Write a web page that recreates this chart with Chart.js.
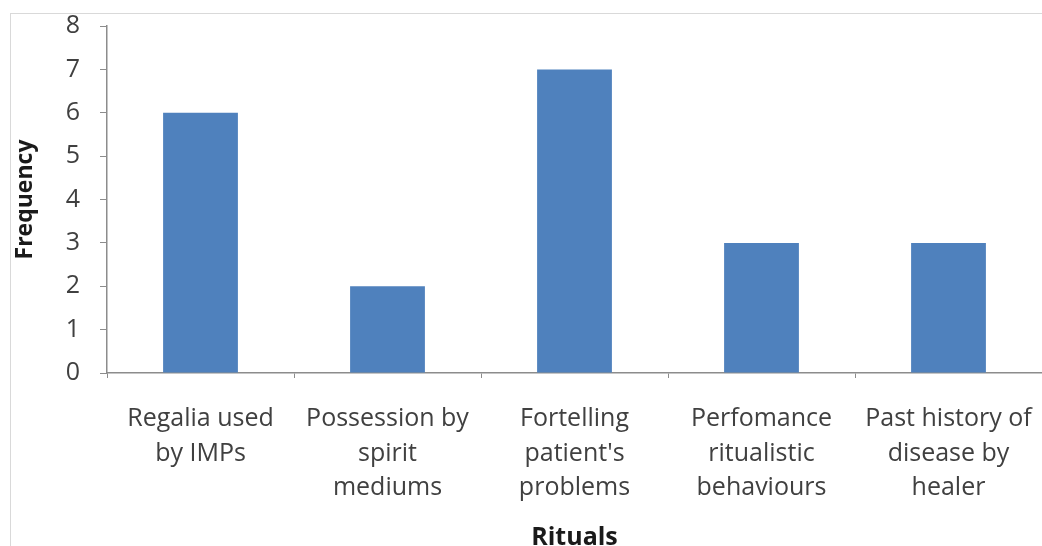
<!DOCTYPE html>
<html>
<head>
<meta charset="utf-8">
<script src="https://cdn.jsdelivr.net/npm/chart.js@4"></script>
<style>
  html, body { margin: 0; padding: 0; background: #fff; }
  #wrap { position: relative; width: 1042px; height: 546px; overflow: hidden; }
  #frame { position: absolute; left: 10px; top: 13px; width: 1100px; height: 600px; border: 1px solid #d9d9d9; box-sizing: border-box; }
  canvas { position: absolute; left: 0; top: 0; }
</style>
</head>
<body>
<div id="wrap">
  <div id="frame"></div>
  <canvas id="ritualsChart" width="1042" height="546"></canvas>
</div>
<script>
// categories (multi-line labels) and values
const rituals = [
    ['Regalia used', 'by IMPs'],
    ['Possession by', 'spirit', 'mediums'],
    ['Fortelling', "patient's", 'problems'],
    ['Perfomance', 'ritualistic', 'behaviours'],
    ['Past history of', 'disease by', 'healer']
];
const frequency = [6, 2, 7, 3, 3];
const yTicks = [0, 1, 2, 3, 4, 5, 6, 7, 8];

const axisColor = '#8c8c8c';
const labelFont = "'Open Sans', Lato, 'Liberation Sans', sans-serif";

document.addEventListener('DOMContentLoaded', function() {
    const ctx = document.getElementById('ritualsChart').getContext('2d');

    new Chart(ctx, {
        type: 'bar',
        data: {
            labels: rituals,
            datasets: [{
                label: 'Frequency',
                data: frequency,
                backgroundColor: '#4F81BD',
                borderWidth: 0,
                barPercentage: 0.8,
                categoryPercentage: 0.5
            }]
        },
        options: {
            responsive: false,
            animation: false,
            layout: { padding: { top: 26, left: 0, right: 0, bottom: 0 } },
            plugins: {
                legend: { display: false },
                tooltip: { enabled: false }
            },
            scales: {
                x: {
                    grid: {
                        display: true,
                        drawOnChartArea: false,
                        drawTicks: true,
                        tickLength: 5,
                        color: axisColor
                    },
                    border: { color: axisColor, width: 1.5 },
                    ticks: {
                        color: '#404040',
                        font: { family: labelFont, size: 25, lineHeight: 1.38 },
                        padding: 24,
                        maxRotation: 0,
                        autoSkip: false
                    },
                    title: {
                        display: true,
                        text: 'Rituals',
                        color: '#1a1a1a',
                        font: { family: labelFont, size: 25, weight: 'bold' },
                        padding: { top: 0, bottom: -7 }
                    },
                    afterFit: function(scale) {
                        scale.height = 173;
                        scale.paddingLeft = 0;
                        scale.paddingRight = 0;
                    }
                },
                y: {
                    min: 0,
                    max: 8,
                    afterBuildTicks: function(scale) {
                        scale.ticks = yTicks.map(v => ({ value: v }));
                    },
                    grid: {
                        display: true,
                        drawOnChartArea: false,
                        drawTicks: true,
                        tickLength: 7,
                        color: axisColor
                    },
                    border: { color: axisColor, width: 1.5 },
                    ticks: {
                        color: '#404040',
                        font: { family: labelFont, size: 25 },
                        padding: 20
                    },
                    title: {
                        display: true,
                        text: 'Frequency',
                        color: '#1a1a1a',
                        font: { family: labelFont, size: 23, weight: 'bold' },
                        padding: { top: 12, bottom: 0 }
                    },
                    afterFit: function(scale) {
                        scale.width = 107;
                        scale.paddingTop = 0;
                        scale.paddingBottom = 0;
                    }
                }
            }
        }
    });
});
</script>
</body>
</html>
